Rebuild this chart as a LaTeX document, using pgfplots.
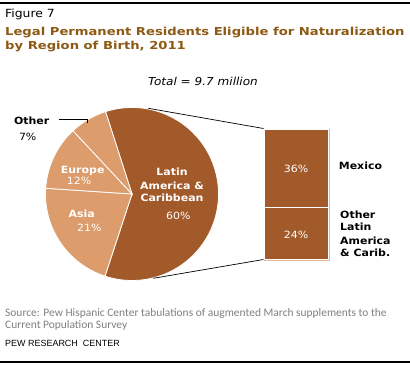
\documentclass[border=0pt]{standalone}
\usepackage{pgfplots}
\pgfplotsset{compat=1.18}
\usepackage{pgfplotstable}
\usepackage{fontspec}
\setmainfont{DejaVu Sans}[FakeStretch=1.1]
\newfontfamily\titlefont{DejaVu Sans}[FakeStretch=1.2]
\newfontfamily\carlito{Carlito}
\newfontfamily\arialf{Liberation Sans}
\definecolor{dark}{HTML}{A35A2A}
\definecolor{light}{HTML}{DC9C6C}
\definecolor{titlec}{HTML}{8C5A14}
\definecolor{tanc}{HTML}{E6B894}
\definecolor{srcgray}{HTML}{7F7F7F}

\pgfplotstableread{
region pct
Latin 60
Asia 21
Europe 12
Other 7
}\piedata

\begin{document}
\pgfplotstablegetelem{0}{pct}\of\piedata\let\pA\pgfplotsretval
\pgfplotstablegetelem{1}{pct}\of\piedata\let\pB\pgfplotsretval
\pgfplotstablegetelem{2}{pct}\of\piedata\let\pC\pgfplotsretval
\pgfplotstablegetelem{3}{pct}\of\piedata\let\pD\pgfplotsretval
\pgfmathsetmacro\aA{107.8}%
\pgfmathsetmacro\aB{\aA-3.6*\pA}%
\pgfmathsetmacro\aC{\aB-3.6*\pB}%
\pgfmathsetmacro\aD{\aC-3.6*\pC}%
\pgfmathsetmacro\aE{\aD-3.6*\pD}%
\begin{tikzpicture}
\useasboundingbox (0,0) rectangle (410bp,366bp);
% stacked bar (drawn first, labels go on top from the main axis)
\begin{axis}[at={(264bp,107bp)}, anchor=south west, width=64bp, height=130bp,
  scale only axis, xmin=-0.5, xmax=0.5, ymin=0, ymax=60, ybar stacked,
  bar width=64bp, hide axis, clip=false]
\addplot[fill=dark, draw=white, line width=0.8bp] coordinates {(0,24)};
\addplot[fill=dark, draw=white, line width=0.8bp] coordinates {(0,36)};
\end{axis}
\begin{axis}[at={(0,0)}, anchor=south west, width=410bp, height=366bp,
  scale only axis, xmin=0, xmax=410, ymin=0, ymax=366, y dir=reverse,
  hide axis, clip=false]
\addplot[draw=none] coordinates {(0,0)};
% rules
\draw[black, line width=1.3bp] (0,3) -- (410,3);
\draw[black, line width=1.3bp] (0,362) -- (410,362);
% titles
\node[anchor=base west, inner sep=0, font=\fontsize{11.3}{13}\selectfont] at (5,18) {Figure 7};
\node[anchor=base west, inner sep=0, text=titlec, font=\titlefont\bfseries\fontsize{11}{14}\selectfont] at (5,35) {Legal Permanent Residents Eligible for Naturalization};
\node[anchor=base west, inner sep=0, text=titlec, font=\titlefont\bfseries\fontsize{11}{14}\selectfont] at (5,49) {by Region of Birth, 2011};
\node[anchor=base, inner sep=0, font=\itshape\fontsize{11}{12}\selectfont] at (203,85) {Total = 9.7 million};
% pie
\fill[dark, draw=white, line width=0.8bp] (132,194) -- ++(\aA:86.5bp) arc[start angle=\aA, end angle=\aB, radius=86.5bp] -- cycle;
\fill[light, draw=white, line width=0.8bp] (132,194) -- ++(\aB:86.5bp) arc[start angle=\aB, end angle=\aC, radius=86.5bp] -- cycle;
\fill[light, draw=white, line width=0.8bp] (132,194) -- ++(\aC:86.5bp) arc[start angle=\aC, end angle=\aD, radius=86.5bp] -- cycle;
\fill[light, draw=white, line width=0.8bp] (132,194) -- ++(\aD:86.5bp) arc[start angle=\aD, end angle=\aE, radius=86.5bp] -- cycle;
% connectors
\draw[black, line width=0.7bp] (148.3,108.3) -- (263.5,128.5);
\draw[black, line width=0.7bp] (153.3,278.3) -- (263.5,259.5);
\draw[black, line width=0.7bp] (59.3,119) -- (87.7,119) -- (87.7,123.3);
\draw[tanc, line width=1bp] (329.5,129) -- (329.5,260.5) -- (264,260.5);
% pie and bar labels
\begin{scope}[every node/.style={inner sep=0, anchor=base, text=white}]
\node[font=\bfseries\fontsize{10}{12}\selectfont] at (172,175.7) {Latin};
\node[font=\bfseries\fontsize{10}{12}\selectfont] at (172,189) {America \&};
\node[font=\bfseries\fontsize{10}{12}\selectfont] at (172,201.7) {Caribbean};
\node[font=\fontsize{10}{12}\selectfont] at (178.3,219) {60\%};
\node[font=\bfseries\fontsize{10}{12}\selectfont] at (81.7,217) {Asia};
\node[font=\fontsize{10}{12}\selectfont] at (89.3,231.7) {21\%};
\node[font=\bfseries\fontsize{10}{12}\selectfont] at (82.7,173.3) {Europe};
\node[font=\fontsize{10}{12}\selectfont] at (79,184.7) {12\%};
\node[font=\fontsize{10}{12}\selectfont] at (296,172.3) {36\%};
\node[font=\fontsize{10}{12}\selectfont] at (296,238.3) {24\%};
\end{scope}
\begin{scope}[every node/.style={inner sep=0, text=black}]
\node[anchor=base, font=\bfseries\fontsize{10}{12}\selectfont] at (31.7,124) {Other};
\node[anchor=base, font=\fontsize{10}{12}\selectfont] at (27.7,140.7) {7\%};
\node[anchor=base west, font=\bfseries\fontsize{10}{12}\selectfont] at (338.7,169.7) {Mexico};
\node[anchor=base west, font=\bfseries\fontsize{10}{12}\selectfont] at (340,218) {Other};
\node[anchor=base west, font=\bfseries\fontsize{10}{12}\selectfont] at (340,230.7) {Latin};
\node[anchor=base west, font=\bfseries\fontsize{10}{12}\selectfont] at (340,244) {America};
\node[anchor=base west, font=\bfseries\fontsize{10}{12}\selectfont] at (340,256.7) {\& Carib.};
\end{scope}
% footer
\node[anchor=base west, inner sep=0, text=srcgray, font=\carlito\fontsize{11.5}{12}\selectfont] at (5,316) {Source: Pew Hispanic Center tabulations of augmented March supplements to the};
\node[anchor=base west, inner sep=0, text=srcgray, font=\carlito\fontsize{11.5}{12}\selectfont] at (5,328) {Current Population Survey};
\node[anchor=base west, inner sep=0, text=black, font=\arialf\fontsize{9}{11}\selectfont] at (5,346) {PEW RESEARCH\ \ CENTER};
\end{axis}
\end{tikzpicture}
\end{document}
